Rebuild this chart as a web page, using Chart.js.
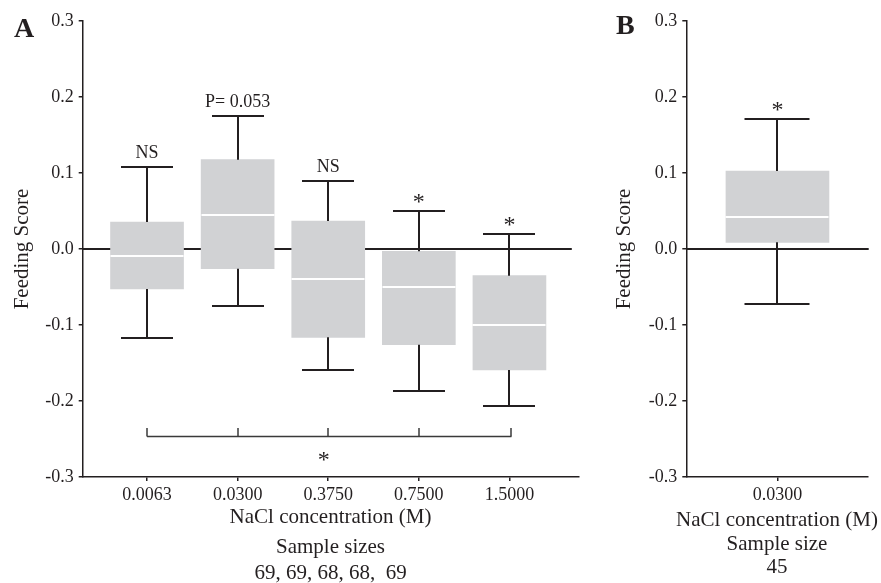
<!DOCTYPE html>
<html><head><meta charset="utf-8">
<script src="https://cdn.jsdelivr.net/npm/chart.js@4.4.1/dist/chart.umd.min.js"></script>
<style>
html,body{margin:0;padding:0;background:#fff;overflow:hidden;width:881px;height:583px;}
#wrapA{position:absolute;left:0;top:0;width:600px;height:590px;}
#wrapB{position:absolute;left:600px;top:0;width:281px;height:590px;}
canvas{display:block;}
</style></head><body>
<div id="wrapA"><canvas id="cA" width="600" height="590"></canvas></div>
<div id="wrapB"><canvas id="cB" width="281" height="590"></canvas></div>
<script>
// ---- Panel A data ----
const concA = ['0.0063', '0.0300', '0.3750', '0.7500', '1.5000'];
const whiskerLowA  = [-0.1175, -0.0754, -0.1588, -0.1868, -0.2070];
const q1A          = [-0.0526, -0.0259, -0.1162, -0.1259, -0.1592];
const medianA      = [-0.0088,  0.0451, -0.0391, -0.0500, -0.1000];
const q3A          = [ 0.0355,  0.1175,  0.0368, -0.0030, -0.0351];
const whiskerHighA = [ 0.1075,  0.1746,  0.0895,  0.0504,  0.0197];
const signifA = ['NS', 'P= 0.053', 'NS', '*', '*'];
const xTitleA = ['NaCl concentration (M)', 'Sample sizes', '69, 69, 68, 68,  69'];
const bracketA = { from: 0, to: 4, level: -0.2466, tickTop: -0.2355, label: '*' };

// ---- Panel B data ----
const concB = ['0.0300'];
const whiskerLowB  = [-0.0728];
const q1B          = [0.0088];
const medianB      = [0.0425];
const q3B          = [0.1026];
const whiskerHighB = [0.1710];
const signifB = ['*'];
const xTitleB = ['NaCl concentration (M)', 'Sample size', '45'];

// ---- shared axis ticks ----
const yTicks = [-0.3, -0.2, -0.1, 0.0, 0.1, 0.2, 0.3];
const yTickLabels = ['-0.3', '-0.2', '-0.1', '0.0', '0.1', '0.2', '0.3'];

const INK = '#231f20';
const BOX = '#d1d2d4';
const FAM = '"Liberation Serif", "Times New Roman", serif';

function boxPlugin(p) {
  return {
    id: 'boxplot' + p.letter,
    beforeDatasetsDraw(chart) {
      const { ctx, chartArea: a, scales: { y } } = chart;
      const y0 = Math.round(y.getPixelForValue(0));
      ctx.save();
      ctx.strokeStyle = INK; ctx.lineWidth = 2;
      ctx.beginPath(); ctx.moveTo(a.left, y0); ctx.lineTo(a.right - p.zeroTrim, y0); ctx.stroke();
      ctx.restore();
    },
    afterDatasetsDraw(chart) {
      const { ctx, scales: { x, y } } = chart;
      ctx.save();
      const seg = (x1, y1, x2, y2) => { ctx.beginPath(); ctx.moveTo(x1, y1); ctx.lineTo(x2, y2); ctx.stroke(); };
      p.cats.forEach((c, i) => {
        const cx = Math.round(x.getPixelForValue(i));
        const yHi = Math.round(y.getPixelForValue(p.hi[i]));
        const yLo = Math.round(y.getPixelForValue(p.lo[i]));
        const yQ1 = y.getPixelForValue(p.q1[i]);
        const yQ3 = y.getPixelForValue(p.q3[i]);
        const yMed = Math.round(y.getPixelForValue(p.med[i]));
        ctx.strokeStyle = INK; ctx.lineWidth = 2;
        seg(cx, yQ3, cx, yHi);
        seg(cx, yQ1, cx, yLo);
        seg(cx - p.cap / 2, yHi, cx + p.cap / 2, yHi);
        seg(cx - p.cap / 2, yLo, cx + p.cap / 2, yLo);
        ctx.strokeStyle = '#ffffff'; ctx.lineWidth = 2;
        seg(cx - p.box / 2, yMed, cx + p.box / 2, yMed);
      });
      ctx.restore();
    },
    afterDraw(chart) {
      const { ctx, chartArea: a, scales: { x, y } } = chart;
      ctx.save();
      ctx.fillStyle = INK;
      ctx.textAlign = 'center';
      ctx.textBaseline = 'alphabetic';
      p.signif.forEach((s, i) => {
        const cx = x.getPixelForValue(i);
        const top = y.getPixelForValue(p.hi[i]);
        if (s === '*') {
          ctx.font = '24px ' + FAM;
          ctx.fillText(s, cx, top - 2);
        } else {
          ctx.font = '18px ' + FAM;
          ctx.fillText(s, cx, top - 9);
        }
      });
      if (p.bracket) {
        const b = p.bracket;
        const yb = Math.round(y.getPixelForValue(b.level)) + 0.5;
        const yt = y.getPixelForValue(b.tickTop);
        ctx.strokeStyle = '#3a3a3a'; ctx.lineWidth = 1.5;
        ctx.beginPath();
        ctx.moveTo(x.getPixelForValue(b.from), yb);
        ctx.lineTo(x.getPixelForValue(b.to) + 2, yb);
        ctx.stroke();
        for (let i = b.from; i <= b.to; i++) {
          const tx = Math.round(x.getPixelForValue(i)) + (i === b.to ? 2 : 0);
          ctx.beginPath(); ctx.moveTo(tx, yb); ctx.lineTo(tx, yt); ctx.stroke();
        }
        ctx.font = '24px ' + FAM;
        ctx.fillText(b.label, x.getPixelForValue(1.95), yb + 30);
      }
      // x-axis titles
      ctx.font = '21px ' + FAM;
      ctx.textBaseline = 'middle';
      const mx = (a.left + a.right) / 2;
      p.xTitle.forEach((t, k) => ctx.fillText(t, mx, a.bottom + p.titleOffsets[k]));
      // panel letter
      ctx.textAlign = 'left';
      ctx.textBaseline = 'alphabetic';
      ctx.font = 'bold 28px ' + FAM;
      ctx.fillText(p.letter, p.letterX, p.letterY);
      ctx.restore();
    }
  };
}

function makeChart(id, p) {
  return new Chart(document.getElementById(id), {
    type: 'bar',
    data: {
      datasets: [{
        data: p.cats.map((c, i) => ({ x: i, y: [p.q1[i], p.q3[i]] })),
        backgroundColor: BOX,
        borderWidth: 0,
        barThickness: p.box
      }]
    },
    options: {
      responsive: false,
      animation: false,
      events: [],
      layout: { padding: { top: 21, right: p.padRight, bottom: 0, left: 0 } },
      plugins: { legend: { display: false }, tooltip: { enabled: false } },
      scales: {
        x: {
          type: 'linear', min: p.xMin, max: p.xMax, offset: false,
          afterBuildTicks: s => { s.ticks = p.cats.map((c, i) => ({ value: i })); },
          afterFit: s => { s.height = 113; },
          ticks: {
            callback: (v, i) => p.cats[i],
            font: { family: FAM, size: 18 }, color: INK, padding: 3,
            autoSkip: false, maxRotation: 0
          },
          grid: { offset: false, drawOnChartArea: false, drawTicks: true, tickLength: 4, color: INK, lineWidth: 1.5 },
          border: { display: true, color: INK, width: 1.5 }
        },
        y: {
          min: -0.3, max: 0.3,
          afterBuildTicks: s => { s.ticks = yTicks.map(v => ({ value: v })); },
          afterFit: s => { s.width = p.yWidth; },
          ticks: {
            callback: (v, i) => yTickLabels[i],
            font: { family: FAM, size: 18 }, color: INK, padding: 5
          },
          grid: { drawOnChartArea: false, drawTicks: true, tickLength: 4, color: INK, lineWidth: 1.5 },
          border: { display: true, color: INK, width: 1.5 },
          title: {
            display: true, text: 'Feeding Score', color: INK,
            font: { family: FAM, size: 21 }, padding: { top: p.yTitlePad, bottom: 0 }
          }
        }
      }
    },
    plugins: [boxPlugin(p)]
  });
}

makeChart('cA', {
  letter: 'A', letterX: 14, letterY: 37,
  cats: concA, lo: whiskerLowA, q1: q1A, med: medianA, q3: q3A, hi: whiskerHighA,
  signif: signifA, xTitle: xTitleA, bracket: bracketA,
  titleOffsets: [40.5, 70, 96],
  xMin: -0.71, xMax: 4.76, padRight: 21.7, yWidth: 82.7, yTitlePad: 10,
  box: 73, cap: 52, zeroTrim: 6.5
});

makeChart('cB', {
  letter: 'B', letterX: 16, letterY: 34,
  cats: concB, lo: whiskerLowB, q1: q1B, med: medianB, q3: q3B, hi: whiskerHighB,
  signif: signifB, xTitle: xTitleB, bracket: null,
  titleOffsets: [43, 67, 90],
  xMin: -1, xMax: 0.99, padRight: 13.3, yWidth: 86.3, yTitlePad: 12,
  box: 103, cap: 65, zeroTrim: -1
});
</script>
</body></html>
